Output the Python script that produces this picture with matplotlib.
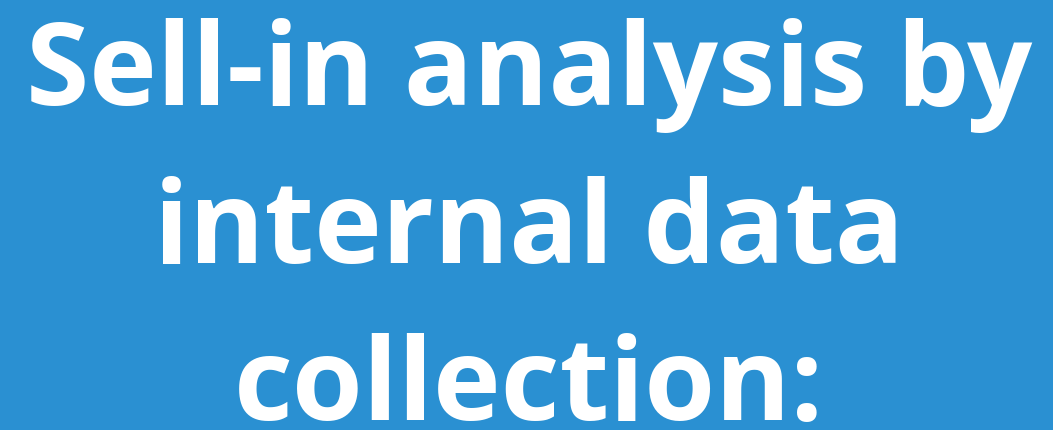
import matplotlib
matplotlib.use("Agg")
import matplotlib.pyplot as plt

lines = ["Sell-in analysis by", "internal data", "collection:"]
baselines_px = [105, 263, 420]
bg = "#2A90D2"

W, H = 1053, 430
fig = plt.figure(figsize=(W / 100, H / 100), dpi=100)
fig.patch.set_facecolor(bg)
for txt, yb in zip(lines, baselines_px):
    fig.text(529 / W, 1 - yb / H, txt, ha="center", va="baseline",
             fontsize=82.5, fontweight="bold", family=["Open Sans", "DejaVu Sans"],
             color="white")
fig.savefig("out.png", dpi=100, facecolor=bg)
